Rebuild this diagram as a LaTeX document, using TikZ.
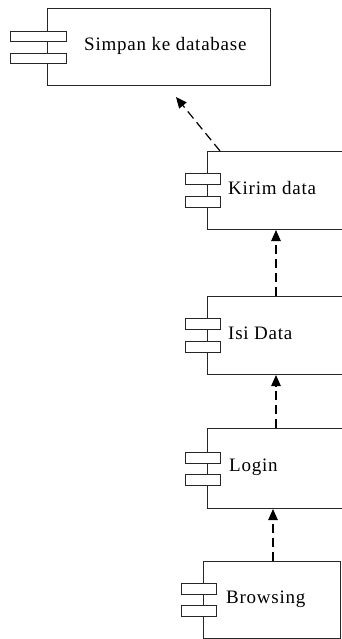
\documentclass[tikz,border=0pt]{standalone}
\usepackage{fontspec}
\setmainfont{Liberation Serif}
\usetikzlibrary{arrows.meta,calc}
\begin{document}
\begin{tikzpicture}[x=1pt,y=-1pt,
  comp/.style={draw=black!85, line width=1pt, rectangle, inner sep=0pt, anchor=north west, fill=white},
  tab/.style={draw=black!85, line width=1pt, rectangle, inner sep=0pt, anchor=north west, fill=white, minimum width=35pt, minimum height=11pt},
  bigtab/.style={tab, minimum width=56pt, minimum height=10pt},
  lbl/.style={anchor=west, inner sep=0pt, font=\fontsize{19}{22}\selectfont\addfontfeature{LetterSpace=4}},
  dep/.style={draw=black, line width=1.2pt, dash pattern=on 9pt off 5pt, -{Triangle[length=11pt,width=9.5pt]}}]
\useasboundingbox (0,0) rectangle (342,639);
\clip (0,0) rectangle (342,639);
% box 1
\node[comp, minimum width=223pt, minimum height=77pt] (db) at (47,8) {};
\node[bigtab] (dbt1) at (10,31) {};
\node[bigtab] (dbt2) at (10,53) {};
\node[lbl] (dbl) at (84,46) {Simpan ke database};
% Kirim data
\node[comp, minimum width=160pt, minimum height=78pt] (kirim) at (207,151) {};
\node[tab] (kt1) at (185,173) {};
\node[tab] (kt2) at (185,196) {};
\node[lbl] (kl) at (228,188) {Kirim data};
% Isi Data
\node[comp, minimum width=160pt, minimum height=78pt] (isi) at (207,296) {};
\node[tab] (it1) at (185,318) {};
\node[tab] (it2) at (185,341) {};
\node[lbl] (il) at (228,333) {Isi Data};
% Login
\node[comp, minimum width=160pt, minimum height=80pt] (login) at (207,428) {};
\node[tab] (lt1) at (185,452) {};
\node[tab] (lt2) at (185,474) {};
\node[lbl] (ll) at (229,467) {Login};
% Browsing
\node[comp, minimum width=137pt, minimum height=77pt] (brow) at (203,561) {};
\node[tab] (bt1) at (181,583) {};
\node[tab] (bt2) at (181,605) {};
\node[lbl] (bl) at (226,599) {Browsing};
% connectors
\coordinate (dbend) at (176,97);
\draw[dep] ($(kirim.north west)+(13,0)$) -- (dbend);
\draw[dep] ($(isi.north west)+(69,0)$) -- ($(kirim.south west)+(69,0)$);
\draw[dep] ($(login.north west)+(69,0)$) -- ($(isi.south west)+(69,0)$);
\draw[dep] ($(brow.north west)+(70,0)$) -- ($(login.south west)+(66,0)$);
\end{tikzpicture}
\end{document}
